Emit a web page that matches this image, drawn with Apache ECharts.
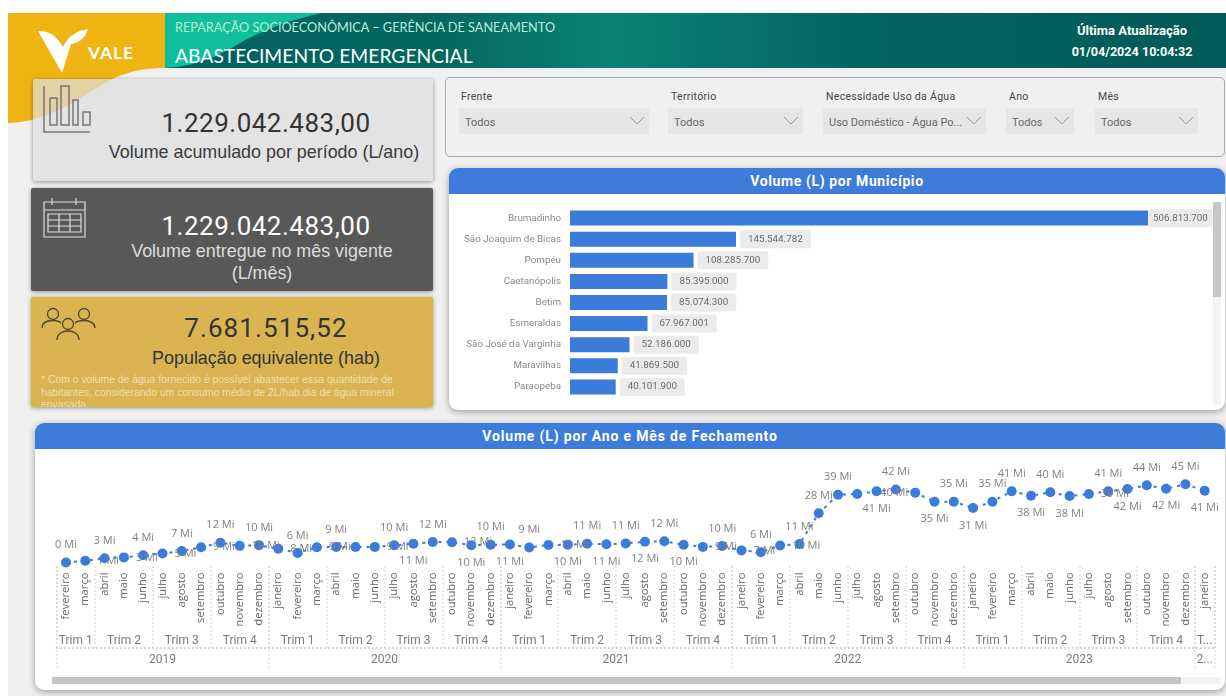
<!DOCTYPE html>
<html>
<head>
<meta charset="utf-8">
<title>Abastecimento Emergencial</title>
<script src="https://cdn.jsdelivr.net/npm/echarts@6/dist/echarts.min.js"></script>
<style>
html,body{margin:0;padding:0;background:#fff;overflow:hidden}
body{width:1226px;height:696px;position:relative;font-family:"Liberation Sans",sans-serif}
.abs{position:absolute}
.txt{position:absolute;white-space:nowrap}
.c{transform:translateX(-50%);text-align:center}
.num{font-family:Roboto,sans-serif;font-size:26px;line-height:32px;letter-spacing:.5px}
.sub{font-size:17.9px;line-height:22px}
.card{position:absolute;border-radius:2px;box-shadow:0 1px 4px rgba(0,0,0,.4)}
.panel{position:absolute;background:#fff;border-radius:9px;box-shadow:0 2px 7px rgba(0,0,0,.35)}
.head{height:26px;background:#3d7cdb;border-radius:9px 9px 0 0;color:#fff;text-align:center;font:bold 14px/26px Roboto,sans-serif;letter-spacing:.6px}
.flab{position:absolute;top:90px;font:10.5px/13px Roboto,sans-serif;color:#444;letter-spacing:.3px}
.fbox{position:absolute;top:108px;height:26px;background:#e6e6e6;font:11px/30px Roboto,sans-serif;color:#666;text-indent:6px}
.fbox svg{position:absolute;right:3px;top:8px}
</style>
</head>
<body>
<div class="abs" style="left:8px;top:13px;width:1218px;height:683px;background:#f0f0f0"></div>

<!-- faixa do topo -->
<div class="abs" style="left:165px;top:13px;width:1061px;height:55px;background:linear-gradient(90deg,#03605f 0%,#04665f 25%,#0a8274 42%,#03625f 68%,#015a58 100%)"></div>
<svg class="abs" style="left:0;top:0" width="1226" height="130">
  <path d="M165 13H322C290 20 262 30 235 46C214 58 196 66 165 68Z" fill="#0fbf9b"/>
  <path d="M8 13H165V68C130 68 112 78 92 91C62 110 40 122 8 123Z" fill="#efb312"/>
  <path d="M38 31C50 30 58 38 63 47C68 36 76 31 88 29C85 39 78 43 71 44L62 73Z" fill="#fff"/>
</svg>
<div class="txt" style="left:88px;top:42px;font:bold 17.5px/22px Lato,sans-serif;color:#fff;letter-spacing:.9px">VALE</div>
<div class="txt" style="left:175px;top:19px;font:12.7px/16px Lato,sans-serif;color:#b9ecdc">REPARAÇÃO SOCIOECONÔMICA – GERÊNCIA DE SANEAMENTO</div>
<div class="txt" style="left:175px;top:44px;font:19.3px/24px Lato,sans-serif;color:#fff">ABASTECIMENTO EMERGENCIAL</div>
<div class="txt c" style="left:1132px;top:23px;font:bold 13px/15px Roboto,sans-serif;color:#fff">Última Atualização</div>
<div class="txt c" style="left:1132px;top:44px;font:bold 12.6px/15px Roboto,sans-serif;color:#fff">01/04/2024 10:04:32</div>

<!-- cartoes da esquerda -->
<div class="card" style="left:33px;top:79px;width:400px;height:102px;background:rgba(222,222,222,.72)"></div>
<svg class="abs" style="left:40px;top:80px" width="56" height="56" fill="none" stroke="#777" stroke-width="1.5">
  <path d="M4 6V52H50M10 45V18H17V45ZM21 45V6H29V45ZM33 45V20H38V45ZM43 45V32H50V45Z"/>
</svg>
<div class="txt c num" style="left:266px;top:107px;color:#333">1.229.042.483,00</div>
<div class="txt c sub" style="left:264px;top:141px;color:#3a3a3a">Volume acumulado por período (L/ano)</div>

<div class="card" style="left:31px;top:188px;width:402px;height:103px;background:#585858"></div>
<svg class="abs" style="left:42px;top:197px" width="46" height="44" fill="none" stroke="#ddd" stroke-width="1.2">
  <path d="M2 5H43V40H2ZM2 13H43M10 1V8M34 1V8M6 17H39V35H6ZM6 23H39M6 29H39M17 17V35M28 17V35"/>
</svg>
<div class="txt c num" style="left:266px;top:210px;color:#fff">1.229.042.483,00</div>
<div class="txt c sub" style="left:262px;top:240px;color:#ddd">Volume entregue no mês vigente</div>
<div class="txt c sub" style="left:262px;top:262px;color:#ddd">(L/mês)</div>

<div class="card" style="left:31px;top:297px;width:402px;height:110px;background:#d9b450;overflow:hidden">
  <div class="txt" style="left:10px;top:77px;font:10.4px/12.5px 'Liberation Sans',sans-serif;color:#efdfb0;white-space:normal;width:370px">* Com o volume de água fornecido é possível abastecer essa quantidade de habitantes, considerando um consumo médio de 2L/hab.dia de água mineral envasada.</div>
</div>
<svg class="abs" style="left:40px;top:306px" width="58" height="40" fill="none" stroke="#4a4334" stroke-width="1.3">
  <circle cx="13" cy="8" r="5.5"/><circle cx="44" cy="8" r="5.5"/><circle cx="28" cy="18" r="5.5"/>
  <path d="M2 22C2 16 8 14.5 13 14.5C16 14.5 19 15 21 17M35 17C37 15 41 14.5 44 14.5C50 14.5 55 17 55 22M17 34C17 28 22 25 28 25C34 25 39 28 39 34"/>
</svg>
<div class="txt c num" style="left:266px;top:312px;color:#333;letter-spacing:1.1px">7.681.515,52</div>
<div class="txt c sub" style="left:266px;top:347px;color:#333">População equivalente (hab)</div>

<!-- filtros -->
<div class="abs" style="left:445px;top:77px;width:778px;height:78px;background:#f0f0f0;border:1px solid #a8a8a8;border-radius:5px"></div>
<div id="filtros"></div>

<!-- barras -->
<div class="panel" style="left:449px;top:168px;width:776px;height:242px">
  <div class="head">Volume (L) por Município</div>
</div>
<div id="barras" class="abs" style="left:449px;top:194px;width:776px;height:216px"></div>
<div class="abs" style="left:1213px;top:202px;width:8px;height:203px;background:#f4f4f4"></div>
<div class="abs" style="left:1213px;top:202px;width:8px;height:95px;background:#c6c6c6"></div>

<!-- linha -->
<div class="panel" style="left:35px;top:423px;width:1190px;height:267px">
  <div class="head" style="letter-spacing:.85px">Volume (L) por Ano e Mês de Fechamento</div>
</div>
<div id="linha" class="abs" style="left:35px;top:449px;width:1190px;height:241px"></div>
<div class="abs" style="left:52px;top:677px;width:1168px;height:7px;background:#f3f3f3"></div>
<div class="abs" style="left:52px;top:677px;width:1129px;height:7px;background:#c4c4c4"></div>

<script>
// Volume por municipio (L)
const municipios = ['Brumadinho','São Joaquim de Bicas','Pompéu','Caetanópolis','Betim','Esmeraldas','São José da Varginha','Maravilhas','Paraopeba']
const volumes = [506813700,145544782,108285700,85395000,85074300,67967001,52186000,41869500,40101900]

// Volume mensal (milhoes de L), fev/2019 ate jan/2024
const meses = ['fevereiro','março','abril','maio','junho','julho','agosto','setembro','outubro','novembro','dezembro',
  'janeiro','fevereiro','março','abril','maio','junho','julho','agosto','setembro','outubro','novembro','dezembro',
  'janeiro','fevereiro','março','abril','maio','junho','julho','agosto','setembro','outubro','novembro','dezembro',
  'janeiro','fevereiro','março','abril','maio','junho','julho','agosto','setembro','outubro','novembro','dezembro',
  'janeiro','fevereiro','março','abril','maio','junho','julho','agosto','setembro','outubro','novembro','dezembro',
  'janeiro']
const volumeMes = [0.3,1.3,2.7,3.2,4.4,5.4,6.8,9,11.6,9.8,10.1,
  8.2,5.7,9,9.2,9.1,9.2,10.1,11,12,11.9,10.2,10.4,
  10.6,8.9,10.3,10.4,11,10.7,11.2,12.1,12.4,10.4,9.2,9.7,
  7.2,6.2,10,10.8,28.4,39,39.4,41,42,40.2,35,35,
  31.4,35,41,38.4,40.4,38.3,39.4,41,42.3,44.4,42.4,45,
  41.3]

const filtros = [
  {nome:'Frente',valor:'Todos'},
  {nome:'Território',valor:'Todos'},
  {nome:'Necessidade Uso da Água',valor:'Uso Doméstico - Água Po...'},
  {nome:'Ano',valor:'Todos'},
  {nome:'Mês',valor:'Todos'}
]

// onde cada rotulo da linha fica em relacao ao ponto
const rotuloAcima = [0,2,4,6,8,10,12,14,17,19,22,24,27,29,31,34,36,38,39,40,43,46,48,49,51,54,56,58]
const rotuloAbaixo = [18,21,23,26,28,30,32,42,45,47,50,52,55,57,59]
const rotuloDireita = [1,3,5,7,9,11,13,16,20,25,33,35,37,53]
const rotuloEsquerda = [44]

const posFiltro = [[461,459,190],[671,668,135],[826,823,163],[1009,1006,68],[1098,1095,103]]
document.getElementById('filtros').innerHTML = filtros.map((f,i)=>{
  const p = posFiltro[i]
  return `<div class="flab" style="left:${p[0]}px">${f.nome}</div>
  <div class="fbox" style="left:${p[1]}px;width:${p[2]}px">${f.valor}
  <svg width="18" height="10" fill="none" stroke="#999"><path d="M2 1L9 8L16 1"/></svg></div>`
}).join('')

const barras = echarts.init(document.getElementById('barras'))
barras.setOption({
  animation:false,
  grid:{left:121,top:13.5,width:638.7,height:190},
  xAxis:{type:'value',min:0,max:560000000,show:false},
  yAxis:{type:'category',inverse:true,data:municipios,
    axisLine:{show:false},axisTick:{show:false},
    axisLabel:{color:'#8a8a8a',fontSize:9.8,margin:9,fontFamily:'Roboto'}},
  series:[{
    type:'bar',data:volumes.map((v,i)=>({
      value:v,
      label:i==0?{distance:0,padding:[4,5,4,5]}:{}
    })),
    barWidth:15,itemStyle:{color:'#3b7bd9'},
    label:{show:true,position:'right',distance:4,color:'#6a6a6a',fontSize:9.8,fontFamily:'Roboto',
      backgroundColor:'#ebebeb',borderRadius:3,padding:[4,8,4,8],
      formatter:p=>p.value.toLocaleString('pt-BR')}
  }]
})

// trimestres e anos saem da lista de meses
const nomeTrim = m=>'Trim '+(Math.floor(['janeiro','fevereiro','março','abril','maio','junho','julho','agosto','setembro','outubro','novembro','dezembro'].indexOf(m)/3)+1)
const grupos = chave=>{
  const g=[]
  chave.forEach((k,i)=>{
    if(g.length&&g[g.length-1].k===k) g[g.length-1].fim=i
    else g.push({k:k,ini:i,fim:i})
  })
  return g
}
let ano = 2019
const anoDoMes = meses.map((m,i)=>{ if(i>0&&m==='janeiro') ano++; return ano })
const trims = grupos(meses.map((m,i)=>anoDoMes[i]+' '+nomeTrim(m)))
const anos = grupos(anoDoMes)
const textoTrim = {}, textoAno = {}
trims.forEach(t=>{ textoTrim[(t.ini+t.fim)/2] = t.ini==t.fim ? 'T...' : t.k.split(' ').slice(1).join(' ') })
anos.forEach(t=>{ textoAno[(t.ini+t.fim)/2] = t.ini==t.fim ? '2...' : String(t.k) })
const limTrim = trims.map(t=>t.ini-0.5).concat(59.5)
const limAno = anos.map(t=>t.ini-0.5).concat(59.5)

const pontilhado = {color:'#c4c4c4',type:[1,3],width:1.5}
const eixoGrupo = (margem,comp,marcas,textos)=>({
  type:'value',position:'bottom',min:-0.5,max:59.5,
  axisLine:{show:false},splitLine:{show:false},
  axisTick:{show:true,length:comp,customValues:marcas,lineStyle:pontilhado},
  axisLabel:{show:true,margin:margem,color:'#7a7a7a',fontSize:12,fontFamily:'Roboto',
    customValues:Object.keys(textos).map(Number),formatter:v=>textos[v]}
})
const rotuloDe = i=>{
  if(rotuloAcima.includes(i)) return {show:true,position:'top',distance:7}
  if(rotuloAbaixo.includes(i)) return {show:true,position:'bottom',distance:7}
  if(rotuloDireita.includes(i)) return {show:true,position:'right',distance:7}
  if(rotuloEsquerda.includes(i)) return {show:true,position:'left',distance:2}
  return {show:false}
}

const linha = echarts.init(document.getElementById('linha'))
linha.setOption({
  animation:false,
  grid:{left:21.35,top:12.5,width:1158,height:105},
  xAxis:[
    {type:'category',data:meses,boundaryGap:true,
      axisLine:{show:false},axisTick:{show:false},
      axisLabel:{interval:0,rotate:90,margin:6,color:'#666',fontSize:11.2,fontFamily:'"Open Sans"'}},
    eixoGrupo(68,81.5,limTrim,textoTrim),
    eixoGrupo(87,103,limAno,textoAno),
    {type:'value',position:'bottom',offset:81.5,min:-0.5,max:59.5,
      axisLine:{show:true,lineStyle:pontilhado},axisTick:{show:false},axisLabel:{show:false},splitLine:{show:false}}
  ],
  yAxis:{type:'value',min:-2,max:58,show:false},
  series:[{
    type:'line',xAxisIndex:0,
    data:volumeMes.map((v,i)=>({value:v,label:rotuloDe(i)})),
    symbol:'circle',symbolSize:10,smooth:false,
    lineStyle:{color:'#3b7bd9',width:2,type:[3,5]},
    itemStyle:{color:'#3b7bd9'},
    label:{color:'#808080',fontSize:11,fontFamily:'"Open Sans"',formatter:p=>Math.round(p.value)+' Mi'},
    labelLayout:{hideOverlap:false}
  }]
})
</script>
</body>
</html>
